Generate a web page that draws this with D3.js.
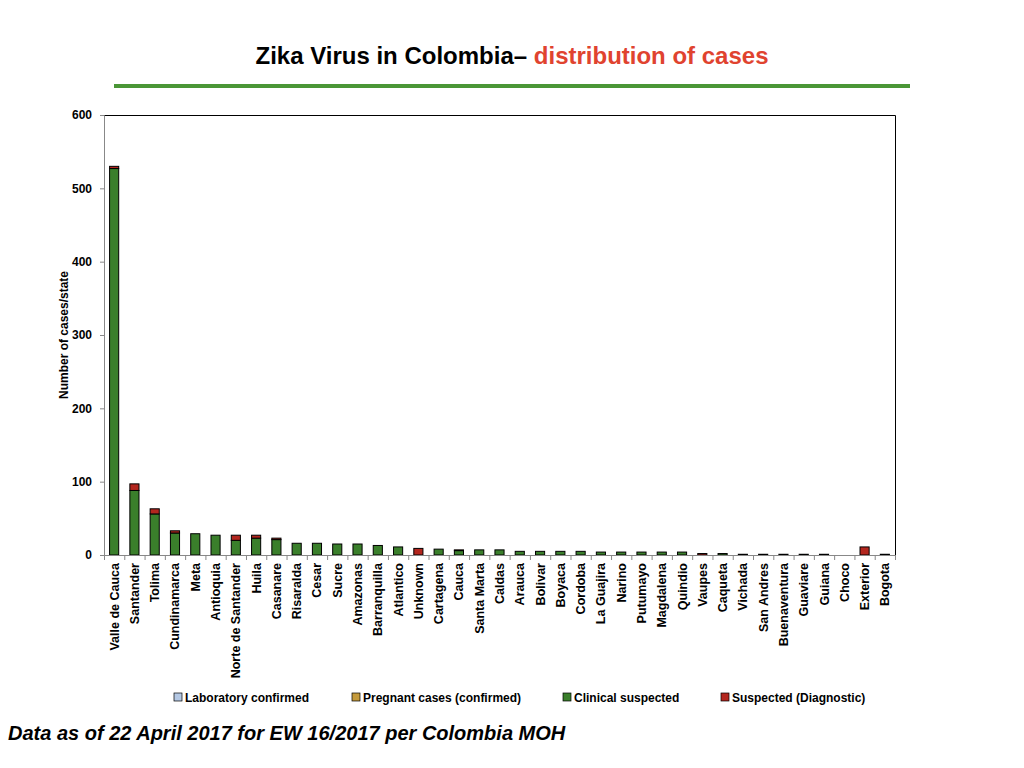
<!DOCTYPE html>
<meta charset="utf-8">
<script src="https://d3js.org/d3.v7.min.js"></script>
<style>
  body { margin: 0; background: #fff; }
  text { font-family: "Liberation Sans", Arial, sans-serif; }
</style>
<div id="chart"></div>
<script>

// departments, in the order shown
var states = ["Valle de Cauca", "Santander", "Tolima", "Cundinamarca", "Meta", "Antioquia",
  "Norte de Santander", "Huila", "Casanare", "Risaralda", "Cesar", "Sucre", "Amazonas",
  "Barranquilla", "Atlantico", "Unknown", "Cartagena", "Cauca", "Santa Marta", "Caldas",
  "Arauca", "Bolivar", "Boyaca", "Cordoba", "La Guajira", "Narino", "Putumayo", "Magdalena",
  "Quindio", "Vaupes", "Caqueta", "Vichada", "San Andres", "Buenaventura", "Guaviare",
  "Guiana", "Choco", "Exterior", "Bogota"];

// series values
var labConfirmed = [0,0,0,0,0,0,0,0,0,0,0,0,0,0,0,0,0,0,0,0,0,0,0,0,0,0,0,0,0,0,0,0,0,0,0,0,0,0,0];
var pregnant     = [0,0,0,0,0,0,0,0,0,0,0,0,0,0,0,0,0,0,0,0,0,0,0,0,0,0,0,0,0,0,0,0,0,0,0,0,0,0,0];
var clinical     = [527,88,56,30,29,27,20,23,21,16,16,15,15,13,11,0,8,6,7,7,5,5,5,5,4,4,4,4,4,0,2,1,1,1,1,1,0,0,1];
var suspected    = [3,9,7,3,0,0,7,4,2,0,0,0,0,0,0,9,0,1,0,0,0,0,0,0,0,0,0,0,0,2,0,0,0,0,0,0,0,11,0];

var yTicks = [0, 100, 200, 300, 400, 500, 600];

var seriesNames = ["Laboratory confirmed", "Pregnant cases (confirmed)", "Clinical suspected", "Suspected (Diagnostic)"];
var seriesColors = ["#b4c8e4", "#c49a3c", "#3a7f2b", "#b3261e"];
var seriesData = [labConfirmed, pregnant, clinical, suspected];

var table = states.map(function (s, i) {
  var row = { state: s };
  seriesNames.forEach(function (n, k) { row[n] = seriesData[k][i]; });
  return row;
});

var W = 1024, H = 768;
var margin = {top: 115, right: 129, bottom: 213, left: 104},
    width = W - margin.left - margin.right,
    height = H - margin.top - margin.bottom;

var root = d3.select("#chart").append("svg")
    .attr("width", W)
    .attr("height", H);

// title
var title = root.append("text")
    .attr("x", 512)
    .attr("y", 64)
    .attr("text-anchor", "middle")
    .style("font-size", "24px")
    .style("font-weight", "bold");
title.append("tspan").attr("fill", "#000").text("Zika Virus in Colombia\u2013 ");
title.append("tspan").attr("fill", "#e0432f").text("distribution of cases");

root.append("rect")
    .attr("x", 114).attr("y", 84)
    .attr("width", 796).attr("height", 4)
    .attr("fill", "#4a9636");

var svg = root.append("g")
    .attr("transform", "translate(" + margin.left + "," + margin.top + ")");

var x = d3.scaleBand()
  .domain(states)
  .range([0, width])
  .paddingInner(0.55)
  .paddingOuter(0.275);

var y = d3.scaleLinear()
  .domain([0, 600])
  .range([height, 0]);

// frame: top and right
svg.append("path")
  .attr("d", "M0,0.5H" + (width + 0.5) + "V" + height)
  .attr("fill", "none")
  .attr("stroke", "#000")
  .attr("stroke-width", 1);

// stacked bars
var stack = d3.stack().keys(seriesNames)(table);

svg.append("g")
  .selectAll("g")
  .data(stack)
  .enter()
  .append("g")
    .attr("fill", function (d, i) { return seriesColors[i]; })
  .selectAll("rect")
  .data(function (d) { return d.filter(function (p) { return p[1] - p[0] > 0; }); })
  .enter()
  .append("rect")
    .attr("x", function (d) { return x(d.data.state); })
    .attr("y", function (d) { return y(d[1]); })
    .attr("width", x.bandwidth())
    .attr("height", function (d) { return y(d[0]) - y(d[1]); })
    .attr("stroke", "#000")
    .attr("stroke-width", 1);

// Y axis
var yAxis = svg.append("g")
  .call(d3.axisLeft(y).tickValues(yTicks).tickSize(4).tickPadding(8));
yAxis.selectAll("path, line").attr("stroke", "#888");
yAxis.selectAll("text")
  .style("font-size", "12px")
  .style("font-weight", "bold")
  .style("font-family", "'Liberation Sans', Arial, sans-serif")
  .attr("fill", "#000");

// X axis with ticks between categories
var step = x.step();
var xAxis = svg.append("g")
  .attr("transform", "translate(0," + height + ")");
xAxis.append("line")
  .attr("x1", 0).attr("x2", width)
  .attr("y1", 0.5).attr("y2", 0.5)
  .attr("stroke", "#888");
xAxis.selectAll(".sep")
  .data(d3.range(states.length + 1))
  .enter()
  .append("line")
    .attr("x1", function (i) { return i * step + 0.5; })
    .attr("x2", function (i) { return i * step + 0.5; })
    .attr("y1", 0).attr("y2", 5)
    .attr("stroke", "#888");
xAxis.selectAll(".lab")
  .data(states)
  .enter()
  .append("text")
    .attr("transform", function (d) {
      return "translate(" + (x(d) + x.bandwidth() / 2 + 4.5) + ",8) rotate(-90)";
    })
    .attr("text-anchor", "end")
    .style("font-size", "12.5px")
    .style("font-weight", "bold")
    .text(function (d) { return d; });

// Y label
root.append("text")
  .attr("transform", "translate(68," + (margin.top + height / 2) + ") rotate(-90)")
  .attr("text-anchor", "middle")
  .style("font-size", "12px")
  .style("font-weight", "bold")
  .text("Number of cases/state");

// legend
var legendX = [174, 352, 563, 721];
var legend = root.append("g")
  .selectAll("g")
  .data(seriesNames)
  .enter()
  .append("g")
    .attr("transform", function (d, i) { return "translate(" + legendX[i] + ",693)"; });
legend.append("rect")
  .attr("width", 8).attr("height", 8)
  .attr("fill", function (d, i) { return seriesColors[i]; })
  .attr("stroke", "#000")
  .attr("stroke-width", 0.7);
legend.append("text")
  .attr("x", 11).attr("y", 9)
  .style("font-size", "12px")
  .style("font-weight", "bold")
  .text(function (d) { return d; });

// footer note
root.append("text")
  .attr("x", 8).attr("y", 740)
  .style("font-size", "20px")
  .style("font-weight", "bold")
  .style("font-style", "italic")
  .text("Data as of 22 April 2017 for EW 16/2017 per Colombia MOH");

</script>
